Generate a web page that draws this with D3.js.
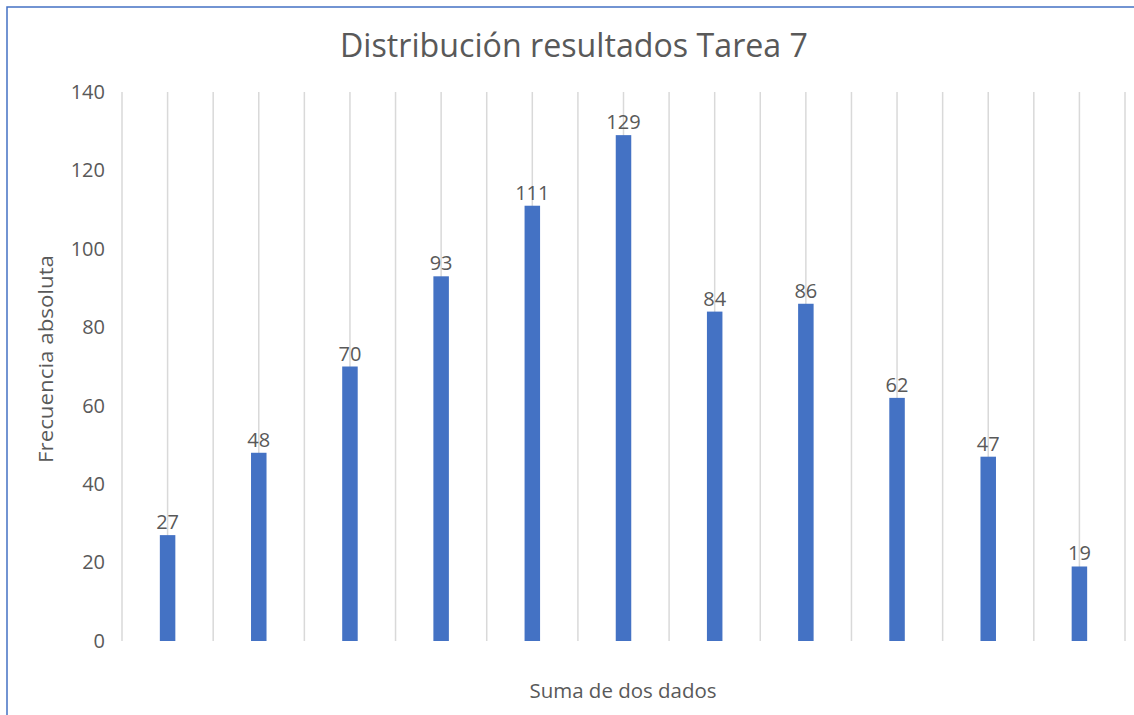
<!DOCTYPE html>
<html>
<head>
<meta charset="utf-8">
<script src="https://cdn.jsdelivr.net/npm/d3@7"></script>
<style>
  body { margin: 0; background: #fff; }
  text { font-family: "Open Sans", "Noto Sans", sans-serif; fill: #595959; }
</style>
</head>
<body>
<svg id="chart"></svg>
<script>
const sums = ["2", "3", "4", "5", "6", "7", "8", "9", "10", "11", "12"];
const counts = [27, 48, 70, 93, 111, 129, 84, 86, 62, 47, 19];
const yTicks = [0, 20, 40, 60, 80, 100, 120, 140];

const W = 1134, H = 715;
const margin = { top: 92, right: 9, bottom: 74, left: 122 };
const width = W - margin.left - margin.right,
  height = H - margin.top - margin.bottom;

const svg = d3.select("#chart").attr("width", W).attr("height", H);

// chart border (cut off at right and bottom)
svg.append("rect")
  .attr("x", 7).attr("y", 7)
  .attr("width", W + 10).attr("height", H + 10)
  .attr("fill", "none")
  .attr("stroke", "#4472c4")
  .attr("stroke-width", 1.5);

const g = svg.append("g")
  .attr("transform", "translate(" + margin.left + "," + margin.top + ")");

const xCat = d3.scaleBand().domain(sums).range([0, width]).padding(0);
const x = d3.scaleBand().domain(sums).range([0, width])
  .paddingInner(0.83).paddingOuter(0.415);
const y = d3.scaleLinear().domain([0, 140]).range([height, 0]);

// vertical gridlines at category edges and centres
const gridX = [];
sums.forEach((s) => {
  gridX.push(xCat(s));
  gridX.push(xCat(s) + xCat.bandwidth() / 2);
});
gridX.push(width);

g.selectAll(".grid")
  .data(gridX)
  .enter()
  .append("line")
  .attr("class", "grid")
  .attr("x1", (d) => d).attr("x2", (d) => d)
  .attr("y1", y(140)).attr("y2", y(0))
  .attr("stroke", "#d9d9d9")
  .attr("stroke-width", 1.5);

// y axis labels
const yAxis = g.append("g")
  .call(d3.axisLeft(y).tickValues(yTicks).tickSize(0).tickPadding(17));
yAxis.select(".domain").remove();
yAxis.selectAll("text")
  .style("font-size", "20px")
  .style("font-family", '"Open Sans", sans-serif')
  .attr("fill", "#595959");

// bars
g.selectAll(".bar")
  .data(counts)
  .enter()
  .append("rect")
  .attr("class", "bar")
  .attr("x", (d, i) => x(sums[i]))
  .attr("width", x.bandwidth())
  .attr("y", (d) => y(d))
  .attr("height", (d) => y(0) - y(d))
  .attr("fill", "#4472c4");

// data labels
g.selectAll(".label")
  .data(counts)
  .enter()
  .append("text")
  .attr("class", "label")
  .attr("x", (d, i) => x(sums[i]) + x.bandwidth() / 2)
  .attr("y", (d) => y(d) - 6)
  .attr("text-anchor", "middle")
  .style("font-size", "20px")
  .text((d) => d);

// title
svg.append("text")
  .attr("x", 574)
  .attr("y", 57)
  .attr("text-anchor", "middle")
  .attr("textLength", 468)
  .attr("lengthAdjust", "spacingAndGlyphs")
  .style("font-size", "32px")
  .text("Distribución resultados Tarea 7");

// x axis title
svg.append("text")
  .attr("x", 623)
  .attr("y", 698)
  .attr("text-anchor", "middle")
  .attr("textLength", 187)
  .attr("lengthAdjust", "spacingAndGlyphs")
  .style("font-size", "20px")
  .text("Suma de dos dados");

// y axis title
svg.append("text")
  .attr("transform", "translate(53,359) rotate(-90)")
  .attr("text-anchor", "middle")
  .attr("textLength", 208)
  .attr("lengthAdjust", "spacingAndGlyphs")
  .style("font-size", "20px")
  .text("Frecuencia absoluta");
</script>
</body>
</html>
